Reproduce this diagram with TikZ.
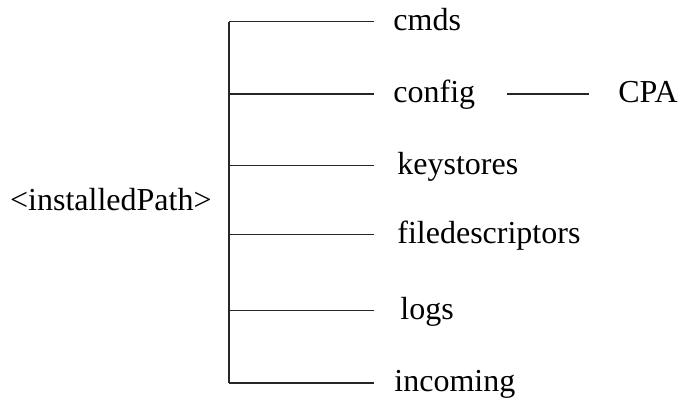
\documentclass[tikz,border=0pt]{standalone}
\usepackage{fontspec}
\setmainfont{Liberation Serif}
\usepackage{tikz}
\usetikzlibrary{positioning}

\begin{document}
\begin{tikzpicture}[
    x=0.5pt, y=-0.5pt,
    font=\fontsize{16}{19}\selectfont,
    label text/.style={inner ysep=0pt, text height=11pt, text depth=2pt},
    leaf/.style={label text, anchor=west, inner xsep=9.5pt},
    branch/.style={line width=0.6pt, draw=black!85}
]
\useasboundingbox (0,0) rectangle (682,400);
\coordinate (trunk) at (229,0);
\node (root) [label text, anchor=east, inner xsep=0pt] at (212,202) {<installedPath>};
\node (cmds) [leaf] at (374,21.7) {cmds};
\node (config) [leaf] at (374,94) {config};
\node (keystores) [leaf, inner xsep=11.5pt] at (374,165.7) {keystores};
\node (filedescriptors) [leaf, inner xsep=11.5pt] at (374,234.3) {filedescriptors};
\node (logs) [leaf, inner xsep=13pt] at (374,310.7) {logs};
\node (incoming) [leaf, inner xsep=10pt] at (374,383) {incoming};
\node (cpa) [leaf, inner xsep=14.5pt] at (589,94) {CPA};
\draw [branch] (cmds.west -| trunk) -- (incoming.west -| trunk);
\foreach \d in {cmds,config,keystores,filedescriptors,logs,incoming}
  \draw [branch] (\d.west -| trunk) -- (\d.west);
\draw [branch, shorten <=6pt] (config.east) -- (cpa.west);
\end{tikzpicture}
\end{document}
